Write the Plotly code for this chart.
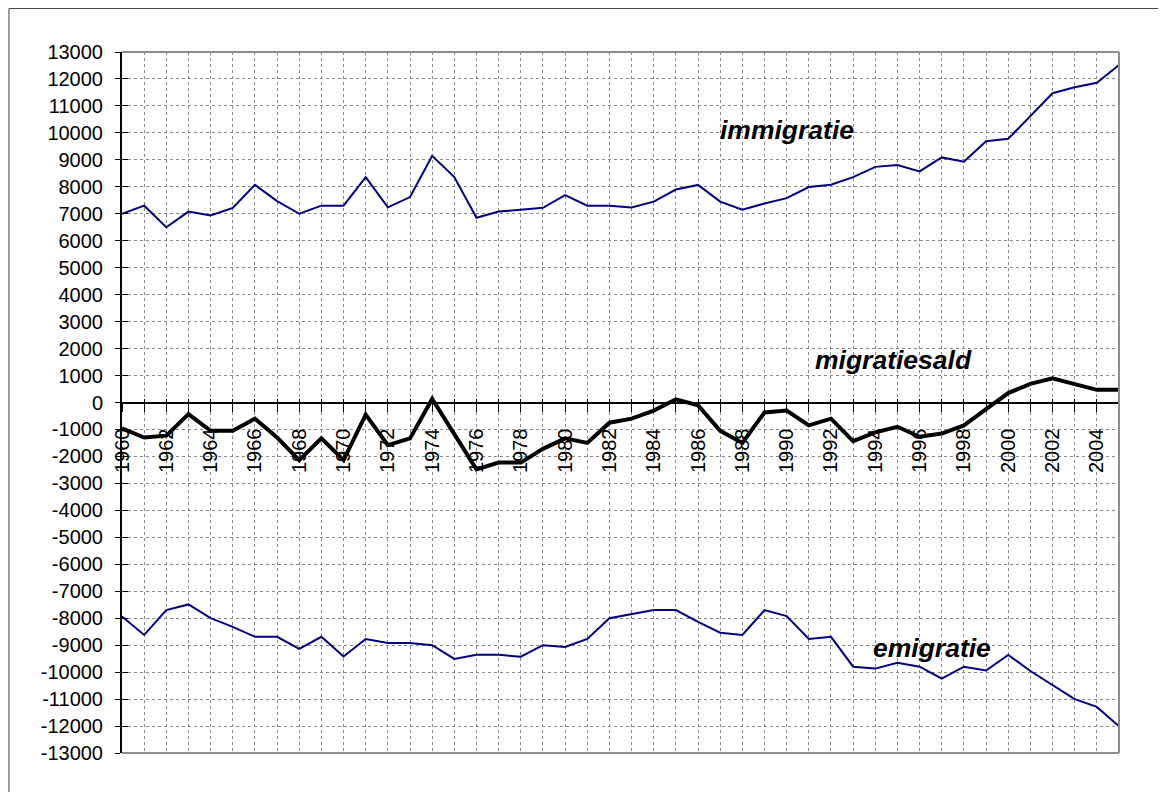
import plotly.graph_objects as go

years = list(range(1960, 2006))

immigratie = [7000, 7300, 6500, 7080, 6940, 7220, 8070, 7470, 7000, 7300,
              7300, 8360, 7240, 7620, 9150, 8360, 6850, 7080, 7150, 7220,
              7690, 7300, 7300, 7230, 7450, 7900, 8070, 7450, 7150, 7380,
              7580, 7990, 8080, 8360, 8740, 8810, 8570, 9090, 8930, 9690,
              9780, 10620, 11470, 11690, 11860, 12520]

emigratie = [-7940, -8620, -7700, -7490, -8000, -8320, -8690, -8690, -9140, -8690,
             -9420, -8770, -8920, -8920, -9000, -9510, -9360, -9360, -9430, -9000,
             -9070, -8770, -8000, -7840, -7700, -7700, -8140, -8540, -8620, -7700,
             -7920, -8770, -8690, -9800, -9870, -9650, -9800, -10240, -9800, -9940,
             -9360, -9960, -10490, -11000, -11290, -12010]

migratiesaldo = [-960, -1300, -1230, -430, -1050, -1050, -600, -1300, -2140, -1330,
                 -2140, -450, -1580, -1330, 130, -1150, -2480, -2230, -2230, -1720,
                 -1330, -1500, -750, -600, -300, 120, -100, -1050, -1500, -370,
                 -300, -850, -600, -1430, -1110, -900, -1270, -1150, -850, -250,
                 350, 690, 900, 680, 470, 470]

y_ticks = list(range(-13000, 14000, 1000))
y_ticktext = [str(v) for v in y_ticks]
x_ticktext = [str(y) if y % 2 == 0 else "" for y in years]

FONT = "Liberation Sans, Arial, sans-serif"

fig = go.Figure()
fig.add_trace(go.Scatter(x=years, y=immigratie, mode="lines",
                         line=dict(color="#000080", width=2), name="immigratie"))
fig.add_trace(go.Scatter(x=years, y=emigratie, mode="lines",
                         line=dict(color="#000080", width=2), name="emigratie"))
fig.add_trace(go.Scatter(x=years, y=migratiesaldo, mode="lines",
                         line=dict(color="#000000", width=4), name="migratiesaldo"))

grid_color = "#888888"

fig.update_layout(
    width=1150, height=784,
    margin=dict(l=114, r=39, t=44, b=39),
    paper_bgcolor="white", plot_bgcolor="white",
    showlegend=False,
    font=dict(family=FONT, size=20, color="black"),
    xaxis=dict(
        range=[1960, 2005],
        tickmode="array", tickvals=years, ticktext=x_ticktext,
        tickangle=-90,
        showgrid=True, gridcolor=grid_color, gridwidth=1, griddash="3px,3px",
        zeroline=False,
        showline=True, linecolor="black", linewidth=2,
        ticks="outside", ticklen=8, tickwidth=1, tickcolor="black",
        ticklabelstandoff=9,
        anchor="free", position=0.5,
        tickfont=dict(family=FONT, size=20, color="black"),
    ),
    xaxis2=dict(
        range=[1960, 2005], overlaying="x", anchor="free", position=0.5,
        tickmode="array", tickvals=years, ticktext=["" for _ in years],
        ticks="inside", ticklen=4, tickwidth=1, tickcolor="black",
        showgrid=False, zeroline=False, showline=False, side="bottom",
    ),
    yaxis=dict(
        range=[-13000, 13000],
        tickmode="array", tickvals=y_ticks, ticktext=y_ticktext,
        showgrid=True, gridcolor=grid_color, gridwidth=1, griddash="3px,3px",
        zeroline=False,
        showline=True, linecolor="black", linewidth=2,
        ticks="outside", ticklen=5, tickwidth=1, tickcolor="black",
        ticklabelstandoff=8,
        tickfont=dict(family=FONT, size=20, color="black"),
    ),
    yaxis2=dict(
        range=[-13000, 13000], overlaying="y", anchor="x",
        tickmode="array", tickvals=y_ticks, ticktext=["" for _ in y_ticks],
        ticks="inside", ticklen=6, tickwidth=1, tickcolor="black",
        showgrid=False, zeroline=False, showline=False,
    ),
)

# invisible trace to activate the overlay axes (ticks only)
fig.add_trace(go.Scatter(x=[1960], y=[0], xaxis="x2", yaxis="y2", mode="markers",
                         marker=dict(opacity=0), hoverinfo="skip", showlegend=False))

# plot area frame (top, right, bottom)
frame = dict(color="#8c8c8c", width=2)
fig.add_shape(type="line", xref="paper", yref="paper", x0=0, x1=1, y0=1, y1=1, line=frame)
fig.add_shape(type="line", xref="paper", yref="paper", x0=1, x1=1, y0=0, y1=1, line=frame)
fig.add_shape(type="line", xref="paper", yref="paper", x0=0, x1=1, y0=0, y1=0, line=frame)

# outer chart border (left and top visible)
outer = dict(color="#444444", width=1)
fig.add_shape(type="line", xref="paper", yref="paper", x0=-0.1134, x1=-0.1134,
              y0=-0.2, y1=1.0620, line=outer)
fig.add_shape(type="line", xref="paper", yref="paper", x0=-0.1134, x1=1.2,
              y0=1.0620, y1=1.0620, line=outer)

label_font = dict(family=FONT, size=26.5, color="black")
fig.add_annotation(x=1990.0, y=10100, text="<b><i>immigratie</i></b>", showarrow=False,
                   font=label_font, xanchor="center", yanchor="middle")
fig.add_annotation(x=1994.8, y=1560, text="<b><i>migratiesald</i></b>", showarrow=False,
                   font=label_font, xanchor="center", yanchor="middle")
fig.add_annotation(x=1996.55, y=-9120, text="<b><i>emigratie</i></b>", showarrow=False,
                   font=label_font, xanchor="center", yanchor="middle")

fig.write_html("out.html")
